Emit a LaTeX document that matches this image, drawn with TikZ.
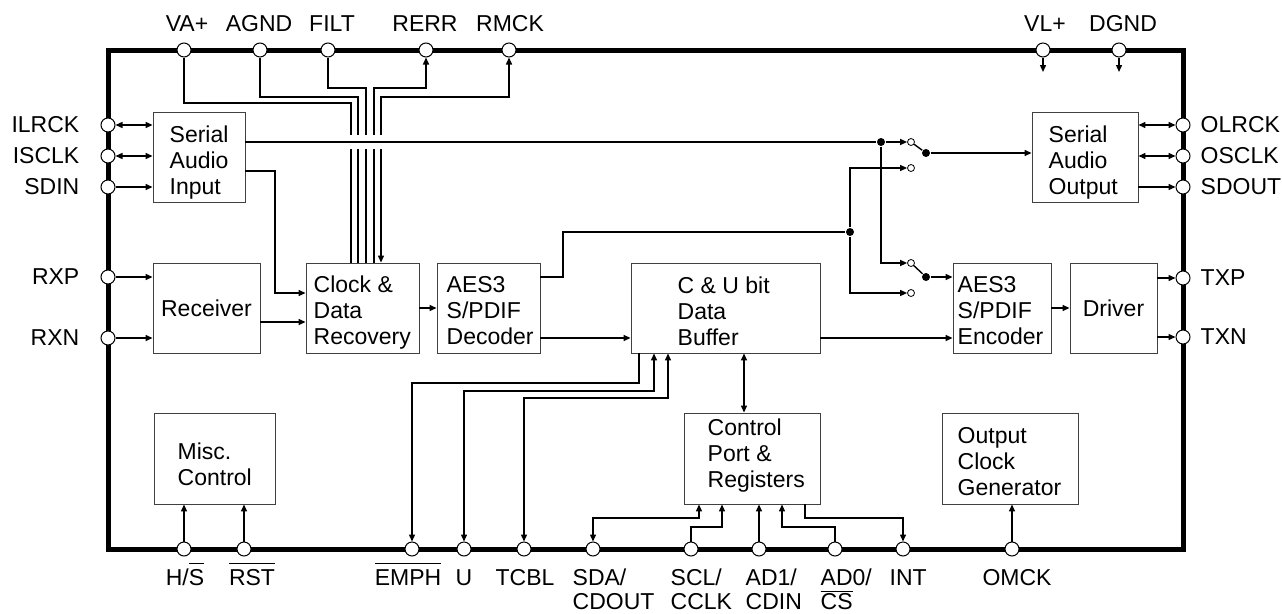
\documentclass[tikz,border=0pt]{standalone}
\usepackage{fontspec}
\setmainfont{Liberation Sans}
\usetikzlibrary{arrows.meta}
\newcommand{\pinbar}[2][20pt]{$\overline{\mbox{\rule{0pt}{#1}#2}}$}
\begin{document}
\begin{tikzpicture}[x=1pt, y=-1pt, line width=1.4pt,
		font=\fontsize{23}{26}\selectfont,
		>={Triangle[length=7pt,width=6pt]},
		blk/.style={draw=black!75, line width=0.9pt, inner sep=0pt, minimum height=90pt},
		txt/.style={inner sep=0pt, align=left, anchor=west},
		btm/.style={inner sep=0pt, anchor=base},
		btmtwo/.style={inner sep=0pt, align=left, anchor=north west, font=\fontsize{23}{24}\selectfont},
		pinc/.style={circle, draw, fill=white, line width=1pt, minimum size=14pt, inner sep=0pt},
		swpin/.style={circle, draw, fill=white, line width=0.8pt, minimum size=7pt, inner sep=0pt},
		jdot/.style={circle, fill, minimum size=8pt, inner sep=0pt}]
	\useasboundingbox (0,0) rectangle (1282,613);
	% chip outline
	\draw[line width=5pt] (108,50) rectangle (1183,549);
	% blocks
	\node[blk, minimum width=92pt] (sai) at (199,157) {};
	\node[txt] (saiT) at (169,163) {Serial\\Audio\\Input};
	\node[blk, minimum width=107pt] (rcv) at (206.5,308) {Receiver};
	\node[blk, minimum width=113pt] (cdr) at (362.5,308) {};
	\node[txt] (cdrT) at (313,313) {Clock \&\\Data\\Recovery};
	\node[blk, minimum width=103pt] (dec) at (488.5,308) {};
	\node[txt] (decT) at (446,311) {AES3\\S/PDIF\\Decoder};
	\node[blk, minimum width=189pt] (buf) at (725.5,308) {};
	\node[txt] (bufT) at (677,311) {C \& U bit\\Data\\Buffer};
	\node[blk, minimum width=106pt] (sao) at (1085,157) {};
	\node[txt] (saoT) at (1048,163) {Serial\\Audio\\Output};
	\node[blk, minimum width=98pt] (enc) at (1002,308) {};
	\node[txt] (encT) at (957,311) {AES3\\S/PDIF\\Encoder};
	\node[blk, minimum width=87pt] (drv) at (1113.5,308) {Driver};
	\node[blk, minimum width=121pt, minimum height=91pt] (misc) at (214.5,458.5) {};
	\node[txt] (miscT) at (177,464) {Misc.\\Control};
	\node[blk, minimum width=136pt, minimum height=91pt] (ctl) at (752,458.5) {};
	\node[txt] (ctlT) at (707,456) {Control\\Port \&\\Registers};
	\node[blk, minimum width=136pt, minimum height=91pt] (ocg) at (1010,458.5) {};
	\node[txt] (ocgT) at (957,462) {Output\\Clock\\Generator};
	% pins
	\node[pinc] (vap) at (184,50) {};
	\node[pinc] (agnd) at (260,50) {};
	\node[pinc] (filt) at (328,50) {};
	\node[pinc] (rerr) at (426,50) {};
	\node[pinc] (rmck) at (509,50) {};
	\node[pinc] (vlp) at (1043,50) {};
	\node[pinc] (dgnd) at (1119,50) {};
	\node[pinc] (ilrck) at (108,125) {};
	\node[pinc] (isclk) at (108,156) {};
	\node[pinc] (sdin) at (108,187) {};
	\node[pinc] (rxp) at (108,277) {};
	\node[pinc] (rxn) at (108,338) {};
	\node[pinc] (olrck) at (1183,125) {};
	\node[pinc] (osclk) at (1183,156) {};
	\node[pinc] (sdout) at (1183,187) {};
	\node[pinc] (txp) at (1183,278) {};
	\node[pinc] (txn) at (1183,337) {};
	\node[pinc] (hs) at (184,549) {};
	\node[pinc] (rst) at (244,549) {};
	\node[pinc] (emph) at (412,549) {};
	\node[pinc] (upin) at (464,549) {};
	\node[pinc] (tcbl) at (524,549) {};
	\node[pinc] (sda) at (593,549) {};
	\node[pinc] (scl) at (691,549) {};
	\node[pinc] (adone) at (759,549) {};
	\node[pinc] (adzero) at (835,549) {};
	\node[pinc] (int) at (903,549) {};
	\node[pinc] (omck) at (1012,549) {};
	% switches and junctions
	\node[swpin] (swAa) at (911,142) {};
	\node[swpin] (swAb) at (911,168) {};
	\node[jdot] (swAc) at (926,153) {};
	\node[swpin] (swBa) at (911,263) {};
	\node[swpin] (swBb) at (911,293) {};
	\node[jdot] (swBc) at (926,277) {};
	\node[jdot] (jA) at (881,142) {};
	\node[jdot] (jB) at (850,232) {};
	% analog pins into clock recovery
	\draw (vap) |- (351,103) -- (cdr.north -| 351,0);
	\draw (agnd) |- (358,97) -- (cdr.north -| 358,0);
	\draw (filt) |- (366,88) -- (cdr.north -| 366,0);
	\draw[->] (cdr.north -| 374,0) -- (374,88) -| (rerr);
	\draw[<->] (cdr.north -| 381,0) -- (381,97) -| (rmck);
	\draw[white, line width=14pt] (345,142) -- (387,142);
	\draw (sai.east |- 0,142) -- (jA);
	\draw[->] (vlp) -- (vlp |- 0,72);
	\draw[->] (dgnd) -- (dgnd |- 0,72);
	% left side
	\draw[<->] (ilrck) -- (ilrck -| sai.west);
	\draw[<->] (isclk) -- (isclk -| sai.west);
	\draw[->] (sdin) -- (sdin -| sai.west);
	\draw[->] (rxp) -- (rxp -| rcv.west);
	\draw[->] (rxn) -- (rxn -| rcv.west);
	\draw[->] (sai.east |- 0,171) -| (275,293) -- (cdr.west |- 0,293);
	\draw[->] (rcv.east |- 0,322) -- (cdr.west |- 0,322);
	\draw[->] (cdr) -- (dec);
	\draw[->] (dec.east |- 0,338) -- (buf.west |- 0,338);
	\draw[->] (buf.east |- 0,338) -- (enc.west |- 0,338);
	\draw[->] (enc) -- (drv);
	% switch routing
	\draw (dec.east |- 0,277) -| (563,232) -- (jB);
	\draw[->] (jB) |- (swAb);
	\draw[->] (jB) |- (swBb);
	\draw[->] (jA) -- (swAa);
	\draw[->] (jA) |- (swBa);
	\draw (swAa) -- (swAc);
	\draw (swBa) -- (swBc);
	\draw[->] (swAc) -- (swAc -| sao.west);
	\draw[->] (swBc) -- (swBc -| enc.west);
	% right side
	\draw[<->] (olrck -| sao.east) -- (olrck);
	\draw[<->] (osclk -| sao.east) -- (osclk);
	\draw[->] (sdout -| sao.east) -- (sdout);
	\draw[->] (txp -| drv.east) -- (txp);
	\draw[->] (txn -| drv.east) -- (txn);
	% bottom
	\draw[->] (hs) -- (hs |- misc.south);
	\draw[->] (rst) -- (rst |- misc.south);
	\draw[->] (buf.south -| 639,0) -- (639,383) -| (emph);
	\draw[<->] (buf.south -| 654,0) -- (654,391) -| (upin);
	\draw[<->] (buf.south -| 668,0) -- (668,398) -| (tcbl);
	\draw[<->] (buf.south -| 744,0) -- (ctl.north -| 744,0);
	\draw[<->] (ctl.south -| 699,0) -- (699,518) -| (sda);
	\draw[->] (scl) |- (722,527) -- (ctl.south -| 722,0);
	\draw[->] (adone) -- (adone |- ctl.south);
	\draw[->] (adzero) |- (782,527) -- (ctl.south -| 782,0);
	\draw[->] (ctl.south -| 805,0) -- (805,518) -| (int);
	\draw[->] (omck) -- (omck |- ocg.south);
	% pin labels
	\node (vapL) at (187,24) {VA+};
	\node (agndL) at (259,24) {AGND};
	\node (filtL) at (332,24) {FILT};
	\node (rerrL) at (425,24) {RERR};
	\node (rmckL) at (510,24) {RMCK};
	\node (vlpL) at (1045,24) {VL+};
	\node (dgndL) at (1123,24) {DGND};
	\node[anchor=east, inner sep=0pt] (ilrckL) at (80,125) {ILRCK};
	\node[anchor=east, inner sep=0pt] (isclkL) at (80,156) {ISCLK};
	\node[anchor=east, inner sep=0pt] (sdinL) at (80,187) {SDIN};
	\node[anchor=east, inner sep=0pt] (rxpL) at (80,277) {RXP};
	\node[anchor=east, inner sep=0pt] (rxnL) at (80,338) {RXN};
	\node[txt] (olrckL) at (1200,125) {OLRCK};
	\node[txt] (osclkL) at (1200,156) {OSCLK};
	\node[txt] (sdoutL) at (1200,187) {SDOUT};
	\node[txt] (txpL) at (1200,278) {TXP};
	\node[txt] (txnL) at (1200,337) {TXN};
	\node[btm] (hsL) at (185,585) {H/\pinbar{S}};
	\node[btm] (rstL) at (252,585) {\pinbar{RST}};
	\node[btm] (emphL) at (408,585) {\pinbar{EMPH}};
	\node[btm] (upinL) at (464,585) {U};
	\node[btm] (tcblL) at (525,585) {TCBL};
	\node[btmtwo] (sdaL) at (572,568.5) {SDA/\\CDOUT};
	\node[btmtwo] (sclL) at (670,568.5) {SCL/\\CCLK};
	\node[btmtwo] (adoneL) at (745,568.5) {AD1/\\CDIN};
	\node[btmtwo] (adzeroL) at (820,568.5) {AD0/\\\pinbar[17.5pt]{CS}};
	\node[btm, anchor=base west] (intL) at (889,585) {INT};
	\node[btm] (omckL) at (1017,585) {OMCK};
\end{tikzpicture}
\end{document}
